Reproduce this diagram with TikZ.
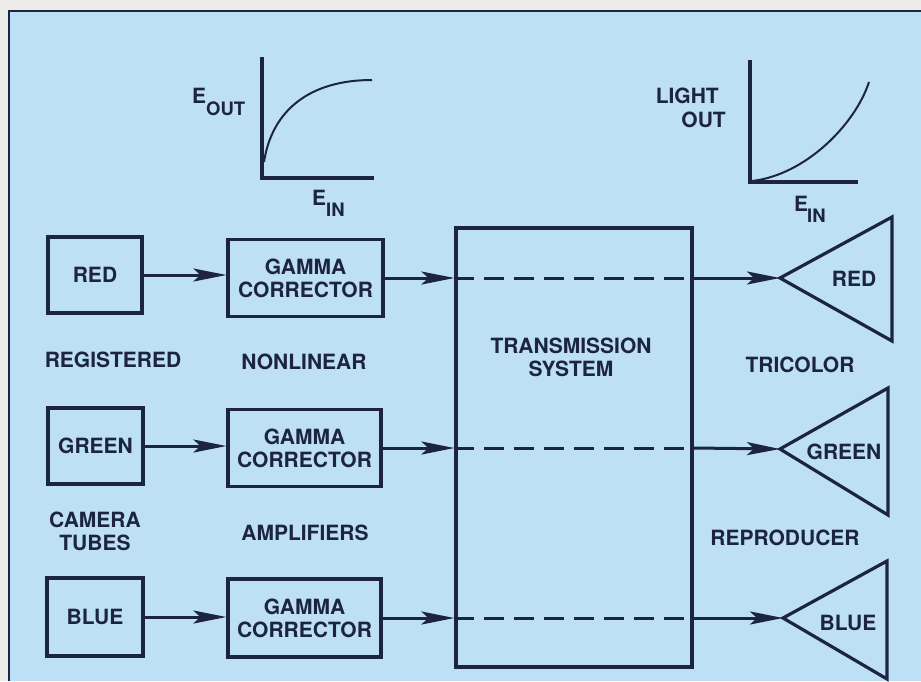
\documentclass[tikz,border=0pt]{standalone}
\usepackage{fontspec}
\setmainfont{TeX Gyre Heros}
\usetikzlibrary{arrows.meta}
\definecolor{bg}{RGB}{190,224,246}
\definecolor{ink}{RGB}{28,36,66}
\definecolor{paper}{RGB}{236,236,232}
\begin{document}
\begin{tikzpicture}[x=1pt,y=-1pt,
  every node/.style={font=\fontsize{21}{23}\selectfont\bfseries, text=ink, align=center, inner sep=0pt},
  small/.style={font=\fontsize{18.5}{20}\selectfont\bfseries},
  blk/.style={draw=ink, line width=3.2pt, line join=miter},
  arr/.style={draw=ink, line width=3pt, -{Stealth[length=33pt,width=13pt,inset=7pt]}},
  dsh/.style={draw=ink, line width=3pt, dash pattern=on 20pt off 10pt},
  axis/.style={draw=ink, line width=3.8pt, line join=miter},
  curve/.style={draw=ink, line width=2pt}]
\useasboundingbox (0,0) rectangle (921,681);
\fill[paper] (0,0) rectangle (921,681);
\fill[bg] (9,11) rectangle (921,681);
\draw[ink, line width=2pt] (9,681) -- (9,11) -- (921,11);

% graphs
\draw[axis] (262,57) -- (262,178) -- (374,178);
\draw[curve] (264,162) .. controls (272,110) and (310,80) .. (372,80);
\node[anchor=base west] (eoutE) at (192,103) {E};
\node[small, anchor=base west] (eoutS) at (206,115) {OUT};
\node[anchor=base west] (einE1) at (312,205) {E};
\node[small, anchor=base west] (einS1) at (326,216) {IN};

\draw[axis] (750,60) -- (750,182) -- (858,182);
\draw[curve] (752,181) .. controls (805,175) and (855,125) .. (869,82);
\node[anchor=base east] (light) at (719,103) {LIGHT};
\node[anchor=base east] (lout) at (726,127) {OUT};
\node[anchor=base west] (einE2) at (794,211) {E};
\node[small, anchor=base west] (einS2) at (807,222) {IN};

% camera tubes
\node[blk, minimum width=94pt, minimum height=76pt] (red) at (95,275) {RED};
\node[blk, minimum width=95pt, minimum height=76pt] (green) at (95.5,446) {GREEN};
\node[blk, minimum width=96pt, minimum height=78pt] (blue) at (95,617) {BLUE};

% gamma correctors
\node[blk, minimum width=155pt, minimum height=77pt] (g1) at (305.5,278) {GAMMA\\CORRECTOR};
\node[blk, minimum width=153pt, minimum height=77pt] (g2) at (304.5,448) {GAMMA\\CORRECTOR};
\node[blk, minimum width=153pt, minimum height=78pt] (g3) at (304.5,618) {GAMMA\\CORRECTOR};

% transmission
\node[blk, minimum width=236pt, minimum height=439pt] (ts) at (574,447.5) {};
\node (tstxt) at (571,357) {TRANSMISSION\\SYSTEM};

% labels
\node (reg) at (113,360) {REGISTERED};
\node (nonl) at (304,362) {NONLINEAR};
\node (cam) at (95,531) {CAMERA\\TUBES};
\node (amp) at (305,533) {AMPLIFIERS};
\node (tri) at (800,365) {TRICOLOR};
\node (rep) at (785,538) {REPRODUCER};

% reproducer triangles
\coordinate (t1) at (780,278);
\coordinate (t2) at (780,449);
\coordinate (t3) at (783,618);
\draw[blk] (t1) -- (892,217) -- (892,341) -- cycle;
\draw[blk] (t2) -- (888,388) -- (888,515) -- cycle;
\draw[blk] (t3) -- (887,561) -- (887,679) -- cycle;
\node (tr1) at (854,279) {RED};
\node (tr2) at (844,452) {GREEN};
\node (tr3) at (848,623) {BLUE};

% connectors
\draw[arr] (red.east) -- (red.east -| g1.west);
\draw[arr] (green.east) -- (green.east -| g2.west);
\draw[arr] (blue.east) -- (blue.east -| g3.west);

\draw[arr] (g1.east) -- (g1.east -| ts.west);
\draw[arr] (g2.east) -- (g2.east -| ts.west);
\draw[arr] (g3.east) -- (g3.east -| ts.west);

\draw[dsh] (g1.east -| ts.west) -- (g1.east -| ts.east);
\draw[dsh] (g2.east -| ts.west) -- (g2.east -| ts.east);
\draw[dsh] (g3.east -| ts.west) -- (g3.east -| ts.east);

\draw[arr] (g1.east -| ts.east) -- (t1);
\draw[arr] (g2.east -| ts.east) -- (t2);
\draw[arr] (g3.east -| ts.east) -- (t3);
\end{tikzpicture}
\end{document}
